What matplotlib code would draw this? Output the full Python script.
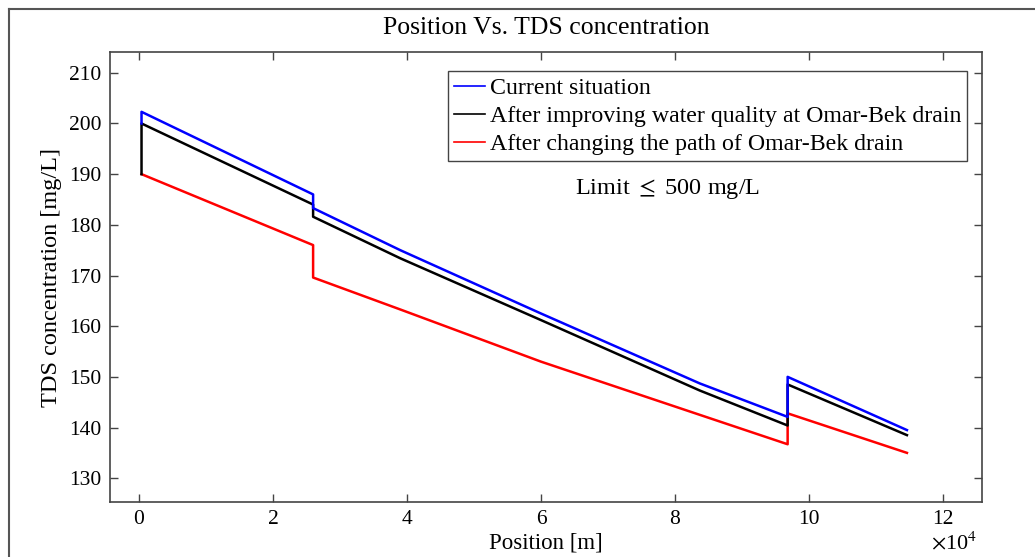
import matplotlib
matplotlib.use("Agg")
import matplotlib.pyplot as plt
from matplotlib.ticker import FuncFormatter
from matplotlib.lines import Line2D

plt.rcParams['font.family'] = ['Liberation Serif', 'DejaVu Serif']
plt.rcParams['mathtext.fontset'] = 'stix'

# Position [m] (vertical steps repeat the x value)
pos = [400, 400, 26000, 26000, 39000, 60000, 83700, 96800, 96800, 114600]

# TDS concentration [mg/L]
current = [200.0, 202.3, 186.0, 183.3, 175.0, 162.5, 148.7, 142.1, 150.0, 139.5]
improved = [190.0, 200.0, 184.0, 181.6, 173.4, 161.2, 147.3, 140.4, 148.5, 138.5]
changed = [190.0, 190.0, 176.0, 169.6, 163.3, 153.0, 142.5, 136.7, 142.8, 135.0]

labels = ["Current situation",
          "After improving water quality at Omar-Bek drain",
          "After changing the path of Omar-Bek drain"]

fig = plt.figure(figsize=(10.35, 5.57), dpi=100)
ax = fig.add_axes([0.1063, 0.0987, 0.8425, 0.8079])

ax.plot(pos, current, color='#0000ff', lw=1.8, label=labels[0], zorder=3)
ax.plot(pos, improved, color='black', lw=1.8, label=labels[1], zorder=2)
ax.plot(pos, changed, color='#ff0000', lw=1.8, label=labels[2], zorder=1)

ax.set_xlim(-4300, 125800)
ax.set_ylim(125.3, 214.1)
ax.set_xticks(range(0, 120001, 20000))
ax.set_yticks(range(130, 211, 10))
ax.xaxis.set_major_formatter(FuncFormatter(lambda v, p: f"{v/1e4:g}"))
ax.tick_params(direction='in', length=6, width=1, top=True, right=True,
               labelsize=15.5, color='#444444', pad=6)
for s in ax.spines.values():
    s.set_color('#444444')
    s.set_linewidth(1.2)

ax.set_title("Position Vs. TDS concentration", fontsize=18.5, pad=13)
ax.set_xlabel("Position [m]", fontsize=16.5, labelpad=2)
ax.set_ylabel("TDS concentration [mg/L]", fontsize=17.5, labelpad=5)
ax.text(0.994, -0.091, r"$\times$10$^4$", transform=ax.transAxes, fontsize=16,
        ha='right', va='center')

leg = ax.legend(loc='upper right', bbox_to_anchor=(0.9828, 0.9573), fontsize=17.2,
                handlelength=1.3, handletextpad=0.2, borderpad=0.25,
                labelspacing=0.27, borderaxespad=0, fancybox=False, framealpha=1)
leg.get_frame().set_edgecolor('#444444')
leg.get_frame().set_linewidth(1.0)
for h in leg.get_lines():
    h.set_linewidth(1.2)

ax.text(0.639, 0.696, r"Limit $\leq$ 500 mg/L", transform=ax.transAxes,
        fontsize=17.5, ha='center', va='center')

# outer frame of the original image
fig.add_artist(Line2D([9/1035, 9/1035], [0, 1 - 9/557], transform=fig.transFigure,
                      color='#555555', lw=1.5))
fig.add_artist(Line2D([9/1035, 1], [1 - 9/557, 1 - 9/557], transform=fig.transFigure,
                      color='#555555', lw=1.5))

fig.savefig("out.png", dpi=100)
